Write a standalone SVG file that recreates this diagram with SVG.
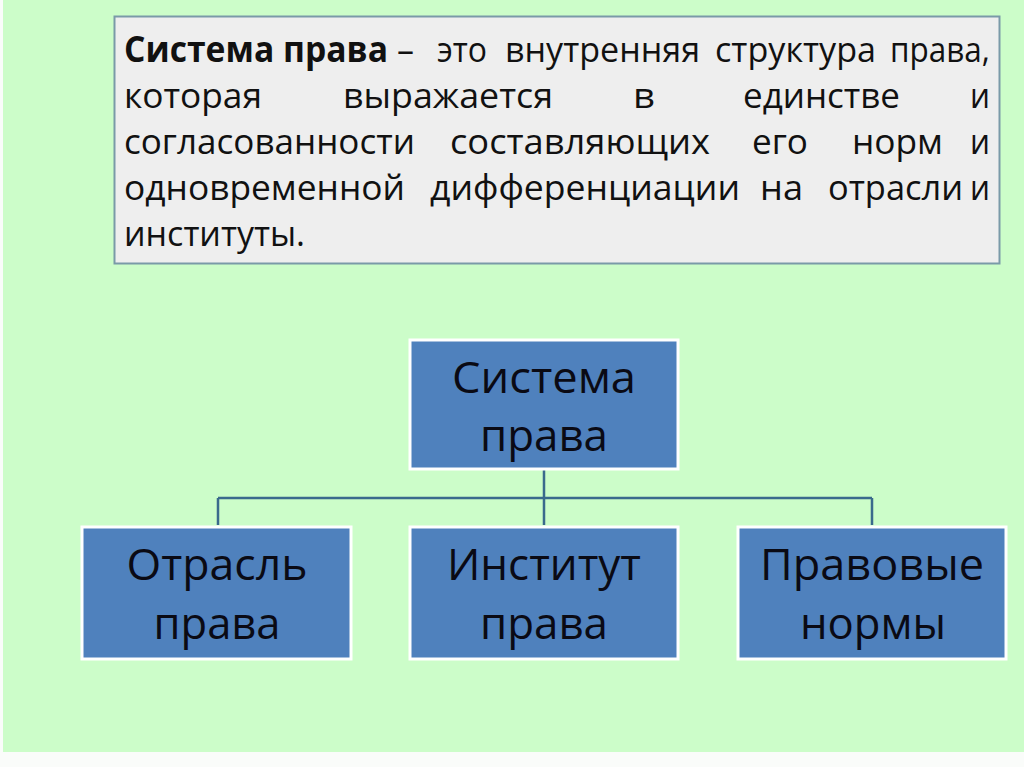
<svg xmlns="http://www.w3.org/2000/svg" width="1024" height="767" viewBox="0 0 1024 767">
<style>
.def{font-family:"Open Sans","Noto Sans","Liberation Sans",sans-serif;font-size:35px;fill:#111}
.b{font-weight:bold}
.node rect{fill:#4f81bd;stroke:#ffffff;stroke-width:3}
.node text{font-family:"Open Sans","Noto Sans","Liberation Sans",sans-serif;font-size:43px;fill:#0a0a14;text-anchor:middle}
.conn{stroke:#3a6a8c;stroke-width:2.5;fill:none}
</style>
<rect x="0" y="0" width="1024" height="767" fill="#fafcfa"/>
<rect x="3" y="0" width="1021" height="752" fill="#ccfdc9"/>
<g id="definition">
<rect x="114.5" y="16.5" width="885" height="247" fill="#eeeeee" stroke="#7a9aa8" stroke-width="2"/>
<text class="def b" x="124" y="62" textLength="264" lengthAdjust="spacingAndGlyphs">Система права</text>
<text class="def" x="397" y="62" textLength="17" lengthAdjust="spacingAndGlyphs">–</text>
<text class="def" x="437" y="62" textLength="50" lengthAdjust="spacingAndGlyphs">это</text>
<text class="def" x="505" y="62" textLength="195" lengthAdjust="spacingAndGlyphs">внутренняя</text>
<text class="def" x="715" y="62" textLength="161" lengthAdjust="spacingAndGlyphs">структура</text>
<text class="def" x="890" y="62" textLength="100" lengthAdjust="spacingAndGlyphs">права,</text>
<text class="def" x="124" y="108" textLength="138" lengthAdjust="spacingAndGlyphs">которая</text>
<text class="def" x="343" y="108" textLength="210" lengthAdjust="spacingAndGlyphs">выражается</text>
<text class="def" x="633" y="108" textLength="22" lengthAdjust="spacingAndGlyphs">в</text>
<text class="def" x="743" y="108" textLength="157" lengthAdjust="spacingAndGlyphs">единстве</text>
<text class="def" x="970" y="108" textLength="20" lengthAdjust="spacingAndGlyphs">и</text>
<text class="def" x="124" y="154" textLength="291" lengthAdjust="spacingAndGlyphs">согласованности</text>
<text class="def" x="450" y="154" textLength="260" lengthAdjust="spacingAndGlyphs">составляющих</text>
<text class="def" x="752" y="154" textLength="56" lengthAdjust="spacingAndGlyphs">его</text>
<text class="def" x="852" y="154" textLength="91" lengthAdjust="spacingAndGlyphs">норм</text>
<text class="def" x="970" y="154" textLength="20" lengthAdjust="spacingAndGlyphs">и</text>
<text class="def" x="124" y="200" textLength="281" lengthAdjust="spacingAndGlyphs">одновременной</text>
<text class="def" x="430" y="200" textLength="310" lengthAdjust="spacingAndGlyphs">дифференциации</text>
<text class="def" x="760" y="200" textLength="43" lengthAdjust="spacingAndGlyphs">на</text>
<text class="def" x="828" y="200" textLength="135" lengthAdjust="spacingAndGlyphs">отрасли</text>
<text class="def" x="970" y="200" textLength="20" lengthAdjust="spacingAndGlyphs">и</text>
<text class="def" x="124" y="246" textLength="181" lengthAdjust="spacingAndGlyphs">институты.</text>
</g>
<g id="connectors">
<path class="conn" d="M544 470 V525 M218 498 H872 M218 498 V525 M872 498 V525"/>
</g>
<g id="node-system" class="node">
<rect x="410" y="340" width="268" height="129"/>
<text x="544" y="393" textLength="184" lengthAdjust="spacingAndGlyphs">Система</text>
<text x="544" y="451" textLength="128" lengthAdjust="spacingAndGlyphs">права</text>
</g>
<g id="node-branch" class="node">
<rect x="82" y="527" width="269" height="132"/>
<text x="217" y="580" textLength="181" lengthAdjust="spacingAndGlyphs">Отрасль</text>
<text x="217" y="639" textLength="127" lengthAdjust="spacingAndGlyphs">права</text>
</g>
<g id="node-institute" class="node">
<rect x="410" y="527" width="268" height="132"/>
<text x="544" y="580" textLength="194" lengthAdjust="spacingAndGlyphs">Институт</text>
<text x="544" y="639" textLength="128" lengthAdjust="spacingAndGlyphs">права</text>
</g>
<g id="node-norms" class="node">
<rect x="738" y="527" width="268" height="132"/>
<text x="872" y="580" textLength="224" lengthAdjust="spacingAndGlyphs">Правовые</text>
<text x="873" y="639" textLength="146" lengthAdjust="spacingAndGlyphs">нормы</text>
</g>
</svg>
